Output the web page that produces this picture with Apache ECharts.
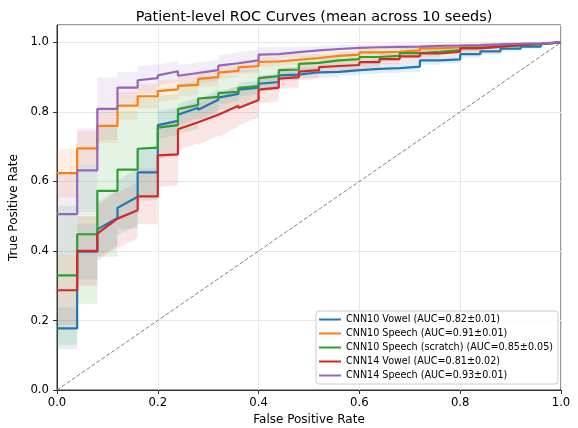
<!DOCTYPE html>
<html>
<head>
<meta charset="utf-8">
<script src="https://cdn.jsdelivr.net/npm/echarts@6/dist/echarts.min.js"></script>
<style>
  html, body { margin: 0; padding: 0; background: #fff; }
  #chart { width: 578px; height: 428px; }
</style>
</head>
<body>
<div id="chart"></div>
<script>
// FPR steps of 0.04 (25 negatives per split); each entry = [tpr at start, tpr at end] of one step
var fprStep = 0.04;

var names = [
  'CNN10 Vowel (AUC=0.82±0.01)',
  'CNN10 Speech (AUC=0.91±0.01)',
  'CNN10 Speech (scratch) (AUC=0.85±0.05)',
  'CNN14 Vowel (AUC=0.81±0.02)',
  'CNN14 Speech (AUC=0.93±0.01)'
];
var colors = ['#1f77b4', '#ff7f0e', '#2ca02c', '#d62728', '#9467bd'];

var tprCnn10Vowel = [
  [0.177, 0.177], [0.398, 0.398], [0.462, 0.495], [0.524, 0.556], [0.626, 0.626],
  [0.762, 0.774], [0.792, 0.812], [0.806, 0.835], [0.841, 0.852], [0.864, 0.870],
  [0.881, 0.886], [0.905, 0.907], [0.912, 0.914], [0.913, 0.915], [0.920, 0.920],
  [0.924, 0.924], [0.926, 0.926], [0.930, 0.930], [0.948, 0.948], [0.951, 0.951],
  [0.966, 0.966], [0.974, 0.974], [0.982, 0.982], [0.988, 0.988], [0.995, 1.0]
];
var tprCnn10Speech = [
  [0.624, 0.624], [0.695, 0.695], [0.760, 0.760], [0.818, 0.818], [0.845, 0.845],
  [0.860, 0.865], [0.875, 0.878], [0.895, 0.900], [0.913, 0.918], [0.928, 0.932],
  [0.944, 0.945], [0.949, 0.950], [0.954, 0.955], [0.960, 0.961], [0.965, 0.965],
  [0.971, 0.971], [0.973, 0.973], [0.977, 0.977], [0.983, 0.983], [0.986, 0.986],
  [0.990, 0.990], [0.992, 0.992], [0.994, 0.994], [0.996, 0.996], [0.998, 1.0]
];
var tprCnn10Scratch = [
  [0.330, 0.330], [0.448, 0.448], [0.573, 0.573], [0.634, 0.634], [0.694, 0.697],
  [0.755, 0.762], [0.808, 0.820], [0.838, 0.843], [0.854, 0.858], [0.869, 0.874],
  [0.897, 0.903], [0.920, 0.922], [0.938, 0.941], [0.945, 0.948], [0.952, 0.952],
  [0.958, 0.958], [0.961, 0.961], [0.969, 0.969], [0.973, 0.973], [0.978, 0.978],
  [0.984, 0.984], [0.988, 0.988], [0.991, 0.991], [0.995, 0.995], [0.998, 1.0]
];
var tprCnn14Vowel = [
  [0.287, 0.287], [0.400, 0.400], [0.450, 0.493], [0.488, 0.517], [0.557, 0.557],
  [0.675, 0.678], [0.750, 0.770], [0.765, 0.792], [0.787, 0.818], [0.811, 0.834],
  [0.864, 0.870], [0.896, 0.900], [0.916, 0.920], [0.929, 0.932], [0.932, 0.935],
  [0.943, 0.943], [0.952, 0.952], [0.960, 0.960], [0.968, 0.968], [0.973, 0.973],
  [0.983, 0.983], [0.988, 0.988], [0.993, 0.993], [0.996, 0.996], [0.998, 1.0]
];
var tprCnn14Speech = [
  [0.506, 0.506], [0.632, 0.632], [0.809, 0.809], [0.870, 0.870], [0.891, 0.897],
  [0.905, 0.917], [0.904, 0.912], [0.912, 0.920], [0.933, 0.940], [0.943, 0.948],
  [0.965, 0.966], [0.971, 0.972], [0.976, 0.977], [0.981, 0.981], [0.984, 0.984],
  [0.986, 0.986], [0.987, 0.987], [0.988, 0.988], [0.990, 0.990], [0.991, 0.991],
  [0.992, 0.992], [0.994, 0.994], [0.996, 0.996], [0.997, 0.997], [0.998, 1.0]
];

// std across seeds per step (shaded band = mean ± std)
var stdCnn10Vowel   = [0.06, 0.08, 0.08, 0.08, 0.07, 0.04, 0.03, 0.03, 0.02, 0.02, 0.02, 0.015, 0.015, 0.015, 0.015, 0.015, 0.015, 0.015, 0.012, 0.012, 0.01, 0.01, 0.008, 0.006, 0.004];
var stdCnn10Speech  = [0.07, 0.05, 0.05, 0.04, 0.035, 0.03, 0.03, 0.025, 0.02, 0.02, 0.015, 0.015, 0.012, 0.012, 0.01, 0.01, 0.01, 0.008, 0.008, 0.006, 0.005, 0.004, 0.004, 0.003, 0.002];
var stdCnn10Scratch = [0.2, 0.2, 0.19, 0.17, 0.15, 0.09, 0.07, 0.06, 0.05, 0.05, 0.04, 0.03, 0.025, 0.02, 0.02, 0.02, 0.015, 0.015, 0.012, 0.01, 0.01, 0.008, 0.006, 0.004, 0.002];
var stdCnn14Vowel   = [0.1, 0.1, 0.08, 0.08, 0.08, 0.09, 0.06, 0.06, 0.06, 0.05, 0.04, 0.03, 0.025, 0.02, 0.02, 0.015, 0.015, 0.015, 0.012, 0.01, 0.01, 0.008, 0.006, 0.004, 0.002];
var stdCnn14Speech  = [0.12, 0.12, 0.09, 0.045, 0.04, 0.03, 0.03, 0.03, 0.03, 0.03, 0.02, 0.015, 0.012, 0.01, 0.01, 0.008, 0.008, 0.007, 0.006, 0.005, 0.005, 0.004, 0.003, 0.002, 0.001];

var tprAll = [tprCnn10Vowel, tprCnn10Speech, tprCnn10Scratch, tprCnn14Vowel, tprCnn14Speech];
var stdAll = [stdCnn10Vowel, stdCnn10Speech, stdCnn10Scratch, stdCnn14Vowel, stdCnn14Speech];

// step path: two points per FPR step
function stepPath(tpr, shift) {
  var pts = [];
  tpr.forEach(function (seg, k) {
    var d = shift ? shift[k] : 0;
    var x0 = +(k * fprStep).toFixed(4), x1 = +((k + 1) * fprStep).toFixed(4);
    pts.push([x0, Math.max(0, Math.min(1, seg[0] + d))]);
    pts.push([x1, Math.max(0, Math.min(1, seg[1] + d))]);
  });
  return pts;
}

var chart = echarts.init(document.getElementById('chart'));
var font = 'DejaVu Sans';
var axisColor = '#333';
var series = [];

tprAll.forEach(function (tpr, i) {
  var std = stdAll[i];
  var upper = stepPath(tpr, std);
  var lower = stepPath(tpr, std.map(function (s) { return -s; }));
  series.push({
    name: names[i] + ' band',
    type: 'custom',
    silent: true,
    z: 1,
    data: [[0, 0]],
    renderItem: function (params, api) {
      var poly = upper.concat(lower.slice().reverse()).map(function (p) { return api.coord(p); });
      return {
        type: 'polygon',
        shape: { points: poly },
        style: { fill: colors[i], opacity: 0.12 }
      };
    }
  });
});

// chance line
series.push({
  name: 'chance',
  type: 'line',
  data: [[0, 0], [1, 1]],
  showSymbol: false,
  silent: true,
  z: 2,
  lineStyle: { color: '#808080', width: 1, type: [4, 2] }
});

tprAll.forEach(function (tpr, i) {
  series.push({
    name: names[i],
    type: 'line',
    data: stepPath(tpr),
    showSymbol: false,
    z: 3,
    color: colors[i],
    lineStyle: { color: colors[i], width: 2.2 }
  });
});

var option = {
  animation: false,
  title: {
    text: 'Patient-level ROC Curves (mean across 10 seeds)',
    left: 309,
    textAlign: 'center',
    top: 5,
    textStyle: { fontFamily: font, fontSize: 14.4, fontWeight: 'normal', color: '#000' }
  },
  legend: {
    data: names,
    orient: 'vertical',
    left: 316,
    top: 311,
    padding: [3, 5, 3, 3],
    itemGap: 3,
    itemWidth: 22,
    itemHeight: 2,
    icon: 'rect',
    backgroundColor: 'rgba(255,255,255,0.8)',
    borderColor: '#cccccc',
    borderWidth: 1,
    borderRadius: 3,
    textStyle: { fontFamily: font, fontSize: 9.6, lineHeight: 11, color: '#000' }
  },
  grid: {
    left: 57, right: 17, top: 25, bottom: 38,
    outerBoundsMode: 'none',
    show: true, borderColor: axisColor, borderWidth: 1
  },
  xAxis: {
    type: 'value',
    min: 0, max: 1, interval: 0.2,
    name: 'False Positive Rate',
    nameLocation: 'middle',
    nameGap: 22,
    nameTextStyle: { fontFamily: font, fontSize: 12, color: '#000' },
    axisLine: { show: true, lineStyle: { color: axisColor, width: 1 } },
    axisTick: { show: true, length: 4, lineStyle: { color: axisColor } },
    axisLabel: {
      fontFamily: font, fontSize: 11.7, color: '#000', margin: 7,
      formatter: function (v) { return v.toFixed(1); }
    },
    splitLine: { show: true, lineStyle: { color: '#e8e8e8', width: 1 } }
  },
  yAxis: {
    type: 'value',
    min: 0, max: 1.05, interval: 0.2,
    name: 'True Positive Rate',
    nameLocation: 'middle',
    nameGap: 33,
    nameTextStyle: { fontFamily: font, fontSize: 12, color: '#000' },
    axisLine: { show: true, lineStyle: { color: axisColor, width: 1 } },
    axisTick: { show: true, length: 4, lineStyle: { color: axisColor } },
    axisLabel: {
      fontFamily: font, fontSize: 11.7, color: '#000', margin: 8,
      showMaxLabel: false,
      formatter: function (v) { return v > 1.001 ? '' : v.toFixed(1); }
    },
    splitLine: { show: true, lineStyle: { color: '#e8e8e8', width: 1 } }
  },
  series: series
};

chart.setOption(option);
</script>
</body>
</html>
